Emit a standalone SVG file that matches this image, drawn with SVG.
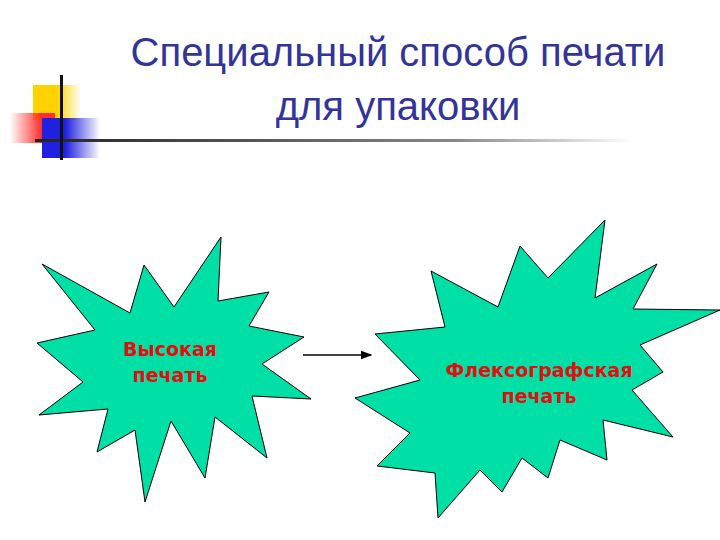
<svg xmlns="http://www.w3.org/2000/svg" width="720" height="540" viewBox="0 0 720 540">
<style>
.star{fill:#00dfa5;stroke:#000;stroke-width:1}
.lbl{font-family:"DejaVu Sans",sans-serif;font-weight:bold;font-size:19px;fill:#e01010;text-anchor:middle}
.title{font-family:"Liberation Sans",Arial,sans-serif;font-size:40px;fill:#333399;text-anchor:middle}
</style>
<defs>
<linearGradient id="gy" x1="0" x2="1"><stop offset="0.5" stop-color="#ffd200"/><stop offset="1" stop-color="#ffd200" stop-opacity="0"/></linearGradient>
<linearGradient id="gr" x1="1" x2="0"><stop offset="0.3" stop-color="#ff3030"/><stop offset="1" stop-color="#ff3030" stop-opacity="0"/></linearGradient>
<linearGradient id="gb" x1="0" x2="1"><stop offset="0.4" stop-color="#2020e0"/><stop offset="1" stop-color="#2020e0" stop-opacity="0"/></linearGradient>
<linearGradient id="gl" x1="0" x2="1"><stop offset="0" stop-color="#222"/><stop offset="0.7" stop-color="#888"/><stop offset="1" stop-color="#fff"/></linearGradient>
<marker id="ah" markerWidth="8" markerHeight="6" refX="7" refY="3" orient="auto"><path d="M0,0 L8,3 L0,6 Z" fill="#000"/></marker>
</defs>
<g id="logo">
<rect x="33" y="85" width="48" height="35" fill="url(#gy)"/>
<rect x="10" y="113" width="45" height="30" fill="url(#gr)"/>
<rect x="42" y="118" width="58" height="40" fill="url(#gb)"/>
<rect x="35" y="139" width="600" height="3" fill="url(#gl)"/>
<rect x="60" y="75" width="3" height="85" fill="#111"/>
</g>
<g id="title">
<text class="title" x="398" y="66">Специальный способ печати</text>
<text class="title" x="398" y="120">для упаковки</text>
</g>
<g id="node1">
<polygon class="star" points="221,237 218,301 269,292 249,326 304,337 262,364 311,399 252,396 267,458 215,417 205,478 171,421 145,502 135,430 97,452 108,409 39,415 83,382 37,343 95,330 42,264 130,313 144,265 174,307"/>
<text class="lbl" x="170" y="356">Высокая</text>
<text class="lbl" x="170" y="382">печать</text>
</g>
<g id="node2">
<polygon class="star" points="605,220 548,278 520,246 498,307 431,271 445,327 375,334 420,380 355,398 410,433 377,466 435,473 438,518 480,470 502,492 522,458 548,478 560,440 607,460 603,420 673,437 632,390 663,372 640,345 720,310 633,309 657,264 595,298"/>
<text class="lbl" x="539" y="377">Флексографская</text>
<text class="lbl" x="539" y="403">печать</text>
</g>
<g id="connectors">
<line x1="303" y1="355" x2="371" y2="355" stroke="#000" stroke-width="1.5" marker-end="url(#ah)"/>
</g>
</svg>
